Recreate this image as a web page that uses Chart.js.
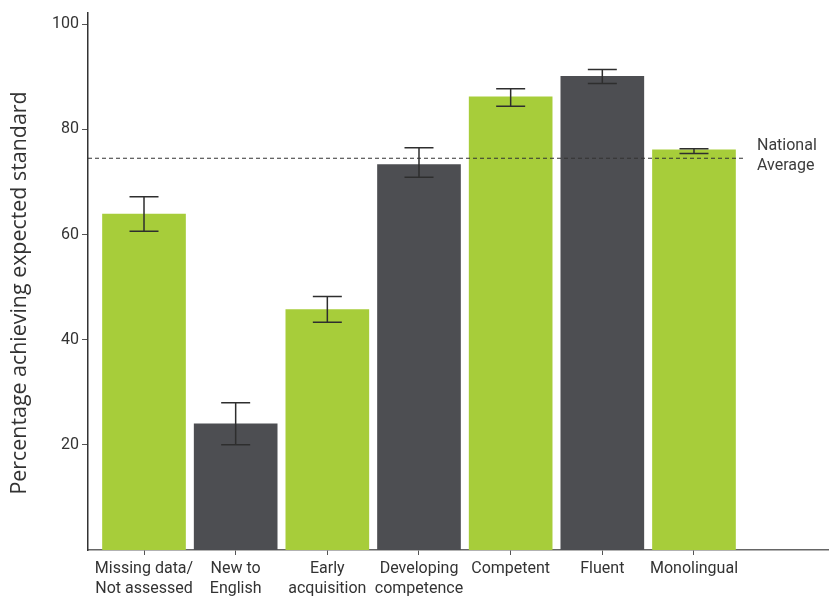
<!DOCTYPE html>
<html>
<head>
<meta charset="utf-8">
<script src="https://cdn.jsdelivr.net/npm/chart.js@4"></script>
<style>
  html, body { margin: 0; padding: 0; background: #fff; }
  #wrap { width: 829px; height: 598px; }
</style>
</head>
<body>
<div id="wrap"><canvas id="myChart" width="829" height="598"></canvas></div>
<script>
var categories = [
    ['Missing data/', 'Not assessed'],
    ['New to', 'English'],
    ['Early', 'acquisition'],
    ['Developing', 'competence'],
    'Competent',
    'Fluent',
    'Monolingual'
];
var values = [63.9, 24.0, 45.7, 73.3, 86.2, 90.1, 76.1];
var errLow = [60.6, 20.0, 43.3, 70.9, 84.4, 88.7, 75.4];
var errHigh = [67.2, 28.0, 48.2, 76.5, 87.7, 91.4, 76.3];
var nationalAverage = 74.5;
var yTicks = [20, 40, 60, 80, 100];
var yTitle = 'Percentage achieving expected standard';

var green = '#a7cd3a';
var dark = '#4d4e52';
var barColors = values.map(function (v, i) { return i % 2 === 0 ? green : dark; });

var points = values.map(function (v, i) { return { x: i, y: v }; });

var FONT = 'Roboto, "DejaVu Sans", sans-serif';

var errorBars = {
    id: 'errorBars',
    afterDatasetsDraw: function (chart) {
        var ctx = chart.ctx;
        var xs = chart.scales.x, ys = chart.scales.y;
        ctx.save();
        ctx.strokeStyle = '#2e2e2e';
        ctx.lineWidth = 1.5;
        for (var i = 0; i < values.length; i++) {
            var x = xs.getPixelForValue(i);
            var lo = ys.getPixelForValue(errLow[i]);
            var hi = ys.getPixelForValue(errHigh[i]);
            ctx.beginPath();
            ctx.moveTo(x, lo); ctx.lineTo(x, hi);
            ctx.moveTo(x - 14.5, lo); ctx.lineTo(x + 14.5, lo);
            ctx.moveTo(x - 14.5, hi); ctx.lineTo(x + 14.5, hi);
            ctx.stroke();
        }
        // national average dashed line
        var y = ys.getPixelForValue(nationalAverage);
        var xEnd = xs.getPixelForValue(6) + 49;
        ctx.strokeStyle = '#333';
        ctx.lineWidth = 1;
        ctx.setLineDash([4, 3]);
        ctx.beginPath();
        ctx.moveTo(chart.chartArea.left, y);
        ctx.lineTo(xEnd, y);
        ctx.stroke();
        ctx.setLineDash([]);
        ctx.fillStyle = '#3c3c3c';
        ctx.font = '16px ' + FONT;
        ctx.textBaseline = 'middle';
        ctx.fillText('National', xEnd + 14, y - 12);
        ctx.fillText('Average', xEnd + 14, y + 8);

        // y axis title, a bit below the plot centre as in the original
        ctx.save();
        ctx.translate(20, 293);
        ctx.rotate(-Math.PI / 2);
        ctx.textAlign = 'center';
        ctx.fillStyle = '#333';
        ctx.font = '21.4px "Open Sans", sans-serif';
        ctx.fillText(yTitle, 0, 0);
        ctx.restore();
        ctx.restore();
    }
};

var config = {
    type: 'bar',
    data: {
        datasets: [{
            data: points,
            backgroundColor: barColors,
            barThickness: 83,
            borderWidth: 0
        }]
    },
    options: {
        responsive: false,
        animation: false,
        layout: { padding: { top: 9, right: 1, left: 0, bottom: 0 } },
        plugins: { legend: { display: false }, tooltip: { enabled: false } },
        scales: {
            x: {
                type: 'linear',
                offset: false,
                min: -0.611,
                max: 7.462,
                afterBuildTicks: function (scale) {
                    scale.ticks = categories.map(function (c, i) { return { value: i }; });
                },
                afterFit: function (scale) { scale.height = 48; },
                grid: { offset: false, drawOnChartArea: false, tickLength: 5, color: '#555', tickColor: '#555' },
                border: { color: '#666', width: 1.5 },
                ticks: {
                    autoSkip: false,
                    maxRotation: 0,
                    padding: 4,
                    color: '#333',
                    font: { family: FONT, size: 16, lineHeight: 1.25 },
                    callback: function (v) { return categories[v]; }
                }
            },
            y: {
                min: 0,
                max: 102.2,
                afterBuildTicks: function (scale) {
                    scale.ticks = yTicks.map(function (v) { return { value: v }; });
                },
                afterFit: function (scale) { scale.width = 88; },
                grid: { drawOnChartArea: false, tickLength: 6, color: '#555', tickColor: '#555' },
                border: { color: '#333', width: 1.5 },
                ticks: {
                    padding: 3,
                    color: '#333',
                    font: { family: FONT, size: 16 }
                }
            }
        }
    },
    plugins: [errorBars]
};

var myChart = new Chart(document.getElementById('myChart'), config);
</script>
</body>
</html>
